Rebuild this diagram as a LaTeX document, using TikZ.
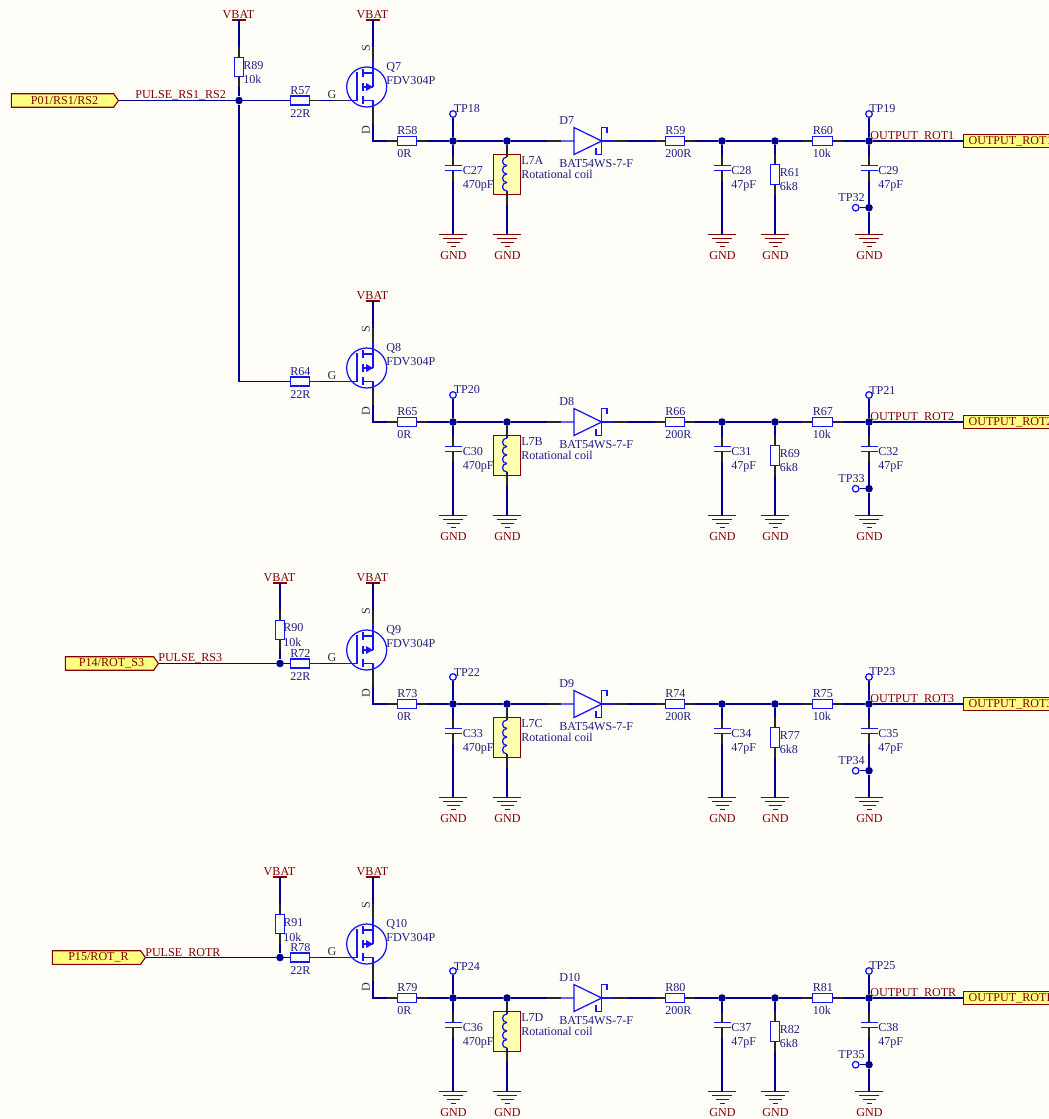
\documentclass[tikz,border=0pt]{standalone}
\usepackage{fontspec}
\setmainfont{Liberation Serif}
\usetikzlibrary{shapes.symbols}
\definecolor{sheetbg}{HTML}{FFFDF8}
\definecolor{wireblue}{HTML}{000090}
\definecolor{partblue}{HTML}{1515F5}
\definecolor{textblue}{HTML}{20207E}
\definecolor{netred}{HTML}{800000}
\definecolor{portfill}{HTML}{FFFF80}
\definecolor{coilfill}{HTML}{FFFFB0}
\tikzset{
  every node/.style={font=\fontsize{8.6}{10}\selectfont},
  wire/.style={draw=wireblue,line width=0.8pt},
  part/.style={draw=partblue,line width=0.9pt},
  pinstub/.style={draw=black!85,line width=0.8pt},
  netstub/.style={draw=netred,line width=0.8pt},
  txt/.style={text=textblue,inner sep=0pt,anchor=west,yshift=-0.025cm},
  nettxt/.style={text=netred,inner sep=0pt,anchor=west,yshift=-0.025cm},
  pintxt/.style={text=black!80,inner sep=0pt,yshift=-0.025cm},
  resh/.style={part,rectangle,inner sep=0pt,minimum width=0.4875cm,minimum height=0.22cm},
  resv/.style={part,rectangle,inner sep=0pt,minimum width=0.22cm,minimum height=0.4875cm},
  jct/.style={circle,fill=wireblue,inner sep=0pt,minimum size=0.19cm},
  testpt/.style={part,circle,inner sep=0pt,minimum size=0.165cm},
  mosring/.style={part,circle,inner sep=0pt,minimum size=1cm},
  coilbox/.style={rectangle,draw=netred,fill=coilfill,line width=0.8pt,inner sep=0pt,minimum width=0.66cm,minimum height=1.01cm},
  portin/.style={signal,signal to=east,signal from=nowhere,signal pointer angle=110,draw=netred,fill=portfill,text=netred,line width=0.8pt,inner ysep=0pt,inner xsep=0pt,minimum height=0.34cm,execute at begin node={\kern0.1cm}},
  portout/.style={rectangle,draw=netred,fill=portfill,text=netred,line width=0.8pt,inner ysep=0pt,inner xsep=0.125cm,minimum height=0.34cm,text width=2.9cm,align=left,anchor=west},
  gndsym/.pic={
    \coordinate (-top) at (0,0);
    \draw[netstub] (0,0) -- (0,-12);
    \draw[netstub] (-14,0) -- (14,0) (-10,4) -- (10,4) (-6.5,8) -- (6.5,8) (-2.5,12) -- (2.5,12);
    \node[text=netred,inner sep=0pt] (-txt) at (0.5,21.5) {GND};
  },
  vbatsym/.pic={
    \coordinate (-top) at (0,0);
    \draw[netstub] (0,0) -- (0,13);
    \draw[netstub] (-7,0) -- (7,0);
    \node[text=netred,inner sep=0pt] (-txt) at (-0.5,-5) {VBAT};
  }
}
\begin{document}
\begin{tikzpicture}[x=0.025cm,y=-0.025cm]
  \useasboundingbox (0,0) rectangle (1049,1119);
  \clip (0,0) rectangle (1049,1119);
  \fill[sheetbg] (0,0) rectangle (1049,1119);

  % The four identical driver rows
  \foreach \dy/\Qn/\Rg/\Rd/\Tpa/\Ca/\Lc/\Dd/\Rb/\Cb/\Rc/\Rp/\Tpb/\Cc/\Tpc/\Out in {
      0/Q7/R57/R58/TP18/C27/L7A/D7/R59/C28/R61/R60/TP19/C29/TP32/ROT1,
      281/Q8/R64/R65/TP20/C30/L7B/D8/R66/C31/R69/R67/TP21/C32/TP33/ROT2,
      563/Q9/R72/R73/TP22/C33/L7C/D9/R74/C34/R77/R75/TP23/C35/TP34/ROT3,
      857/Q10/R78/R79/TP24/C36/L7D/D10/R80/C37/R82/R81/TP25/C38/TP35/ROTR}
  {
  \begin{scope}[shift={(0,\dy)}]
    % MOSFET
    \node[mosring] (\Qn) at (366.7,87) {};
    \coordinate (\Qn-g) at (347,100.5);
    \coordinate (\Qn-s) at (373,60);
    \coordinate (\Qn-d) at (373,107);
    \draw[part] (\Qn-g) -- (357,100.5) -- (357,72);
    \draw[part] (363,69) -- (363,77) (363,83) -- (363,91) (363,96) -- (363,104);
    \draw[part] (\Qn-s) -- (373,73) -- (363,73);
    \draw[part] (373,87) -- (373,73) (373,87) -- (363,87);
    \draw[part] (363,100.5) -- (373,100.5) -- (\Qn-d);
    \fill[partblue] (373,87) -- (366,83) -- (366,91) -- cycle;
    \node[txt] (\Qn-n) at (386,66) {\Qn};
    \node[txt] (\Qn-v) at (386,80) {FDV304P};
    \node[pintxt,rotate=90] (\Qn-ps) at (366,47) {S};
    \node[pintxt,rotate=90] (\Qn-pd) at (366,129) {D};
    \node[pintxt] (\Qn-pg) at (332,94) {G};
    \pic (\Qn-vb) at (373,20) {vbatsym};

    % Series resistors
    \foreach \rx/\ry/\rn/\rv in {300/100.5/\Rg/22R,407/141/\Rd/0R,675/141/\Rb/200R,822.5/141/\Rp/10k} {
      \node[resh] (\rn) at (\rx,\ry) {};
      \node[txt] (\rn-n) at (\rx-10,\ry-11) {\rn};
      \node[txt] (\rn-v) at (\rx-10,\ry+11.5) {\rv};
    }

    % Junctions
    \node[jct] (\Qn-j1) at (453,141) {};
    \node[jct] (\Qn-j2) at (507,141) {};
    \node[jct] (\Qn-j3) at (722,141) {};
    \node[jct] (\Qn-j4) at (775,141) {};
    \node[jct] (\Qn-j5) at (869,141) {};
    \node[jct] (\Qn-j6) at (869,207.7) {};

    % Test points
    \node[testpt] (\Tpa) at (453,114) {};
    \node[txt] (\Tpa-n) at (453.5,108) {\Tpa};
    \node[testpt] (\Tpb) at (869,114) {};
    \node[txt] (\Tpb-n) at (869,108) {\Tpb};
    \node[testpt] (\Tpc) at (855.7,207.7) {};
    \node[text=textblue,inner sep=0pt,yshift=-0.025cm] (\Tpc-n) at (851.5,197) {\Tpc};

    % Capacitors
    \foreach \cx/\cn/\cv/\lx in {453/\Ca/470pF/462.5,722/\Cb/47pF/731,869/\Cc/47pF/878} {
      \coordinate (\cn-t) at (\cx,165.5);
      \coordinate (\cn-b) at (\cx,170.5);
      \draw[part] (\cx-8.5,165.5) -- (\cx+8.5,165.5) (\cx-8.5,170.5) -- (\cx+8.5,170.5);
      \node[txt] (\cn-n) at (\lx,170) {\cn};
      \node[txt] (\cn-v) at (\lx,184.5) {\cv};
    }

    % Coil
    \node[coilbox] (\Lc) at (507,174.3) {};
    \foreach \cy in {157,165.5,174,182.5} {
      \draw[part] (507,\cy) .. controls (501,\cy) and (501,\cy+8.5) .. (507,\cy+8.5);
    }
    \node[txt] (\Lc-n) at (521,160) {\Lc};
    \node[txt] (\Lc-v) at (521,173) {Rotational coil};

    % Diode
    \coordinate (\Dd-a) at (561,141);
    \coordinate (\Dd-k) at (614,141);
    \draw[part] (\Dd-a) -- (574,141) (574,127.5) -- (601.7,141) -- (574,154.5) -- cycle;
    \draw[part] (607,133) -- (607,127.5) -- (601.7,127.5) -- (601.7,154.5) -- (596,154.5) -- (596,148);
    \draw[part] (601.7,141) -- (\Dd-k);
    \node[txt] (\Dd-n) at (559,120) {\Dd};
    \node[txt] (\Dd-v) at (559,163) {BAT54WS-7-F};

    % Shunt resistor
    \node[resv] (\Rc) at (775,174.5) {};
    \node[txt] (\Rc-n) at (779.5,172) {\Rc};
    \node[txt] (\Rc-v) at (779.5,185) {6k8};

    % Output
    \node[portout] (OUT\Out) at (963,141) {OUTPUT\_\Out};
    \node[nettxt] (NET\Out) at (870,135) {OUTPUT\_\Out};

    % Grounds
    \pic (\Ca-g) at (453,234.5) {gndsym};
    \pic (\Lc-g) at (507,234.5) {gndsym};
    \pic (\Cb-g) at (722,234.5) {gndsym};
    \pic (\Rc-g) at (775,234.5) {gndsym};
    \pic (\Cc-g) at (869,234.5) {gndsym};

    % Wires
    \draw[wire] (\Qn-vb-top) -- (\Qn-s);
    \draw[wire] (\Rg) -- (\Qn-g);
    \draw[wire] (\Qn-d) |- (\Rd);
    \draw[wire] (\Rd) -- (\Qn-j1);
    \draw[wire] (\Qn-j1) -- (\Qn-j2);
    \draw[wire] (\Qn-j2) -- (\Dd-a);
    \draw[wire] (\Dd-k) -- (\Rb);
    \draw[wire] (\Rb) -- (\Qn-j3);
    \draw[wire] (\Qn-j3) -- (\Qn-j4);
    \draw[wire] (\Qn-j4) -- (\Rp);
    \draw[wire] (\Rp) -- (\Qn-j5);
    \draw[wire] (\Qn-j5) -- (OUT\Out.west);
    \draw[wire] (\Tpa) -- (\Qn-j1);
    \draw[wire] (\Tpb) -- (\Qn-j5);
    \draw[wire] (\Tpc) -- (\Qn-j6);
    \draw[wire] (\Qn-j1) -- (\Ca-t);
    \draw[wire] (\Ca-b) -- (\Ca-g-top);
    \draw[wire] (\Qn-j2) -- (\Lc);
    \draw[wire] (\Lc) -- (\Lc-g-top);
    \draw[wire] (\Qn-j3) -- (\Cb-t);
    \draw[wire] (\Cb-b) -- (\Cb-g-top);
    \draw[wire] (\Qn-j4) -- (\Rc);
    \draw[wire] (\Rc) -- (\Rc-g-top);
    \draw[wire] (\Qn-j5) -- (\Cc-t);
    \draw[wire] (\Cc-b) -- (\Qn-j6);
    \draw[wire] (\Qn-j6) -- (\Cc-g-top);

    % Black pin ends
    \foreach \rn in {\Rg,\Rd,\Rb,\Rp} {
      \draw[pinstub] (\rn.west) -- +(-10,0) (\rn.east) -- +(10,0);
    }
    \foreach \cn in {\Ca,\Cb,\Cc} {
      \draw[pinstub] (\cn-t) -- +(0,-10) (\cn-b) -- +(0,10);
    }
    \draw[pinstub] (\Rc.north) -- +(0,-10) (\Rc.south) -- +(0,10);
    \draw[pinstub] (\Qn-s) -- +(0,-13) (\Qn-d) -- +(0,17) (\Qn-g) -- +(-14,0);
    \draw[pinstub] (\Dd-a) -- +(-14,0) (\Dd-k) -- +(14,0);
    \draw[pinstub] (\Lc.north) +(0,-9) -- +(0,3) (\Lc.south) +(0,-4) -- +(0,10);
  \end{scope}
  }

  % Input of rows 1 and 2
  \node[portin,minimum width=2.675cm] (P01) at (62.5,100.5) {P01/RS1/RS2};
  \node[nettxt] (P01-n) at (135,94) {PULSE\_RS1\_RS2};
  \node[jct] (J89) at (239,100.5) {};
  \node[resv] (R89) at (239,67) {};
  \node[txt] (R89-n) at (243,65) {R89};
  \node[txt] (R89-v) at (243,78) {10k};
  \pic (V89) at (239,20) {vbatsym};
  \draw[wire] (P01.east) -- (J89);
  \draw[wire] (J89) -- (R57);
  \draw[wire] (J89) |- (R64);
  \draw[wire] (V89-top) -- (R89);
  \draw[wire] (R89) -- (J89);
  \draw[pinstub] (R89.north) -- +(0,-10) (R89.south) -- +(0,10);

  % Input of row 3
  \node[portin,minimum width=2.325cm] (P14) at (109.5,663.5) {P14/ROT\_S3};
  \node[nettxt] (P14-n) at (158,657) {PULSE\_RS3};
  \node[jct] (J90) at (280,663.5) {};
  \node[resv] (R90) at (280,630) {};
  \node[txt] (R90-n) at (283,627) {R90};
  \node[txt] (R90-v) at (283,641) {10k};
  \pic (V90) at (280,583) {vbatsym};
  \draw[wire] (P14.east) -- (J90);
  \draw[wire] (J90) -- (R72);
  \draw[wire] (V90-top) -- (R90);
  \draw[wire] (R90) -- (J90);
  \draw[pinstub] (R90.north) -- +(0,-10) (R90.south) -- +(0,10);

  % Input of row 4
  \node[portin,minimum width=2.325cm] (P15) at (96.5,957.5) {P15/ROT\_R};
  \node[nettxt] (P15-n) at (145,952) {PULSE\_ROTR};
  \node[jct] (J91) at (280,957.5) {};
  \node[resv] (R91) at (280,924) {};
  \node[txt] (R91-n) at (283,922) {R91};
  \node[txt] (R91-v) at (283,936) {10k};
  \pic (V91) at (280,877) {vbatsym};
  \draw[wire] (P15.east) -- (J91);
  \draw[wire] (J91) -- (R78);
  \draw[wire] (V91-top) -- (R91);
  \draw[wire] (R91) -- (J91);
  \draw[pinstub] (R91.north) -- +(0,-10) (R91.south) -- +(0,10);
\end{tikzpicture}
\end{document}
